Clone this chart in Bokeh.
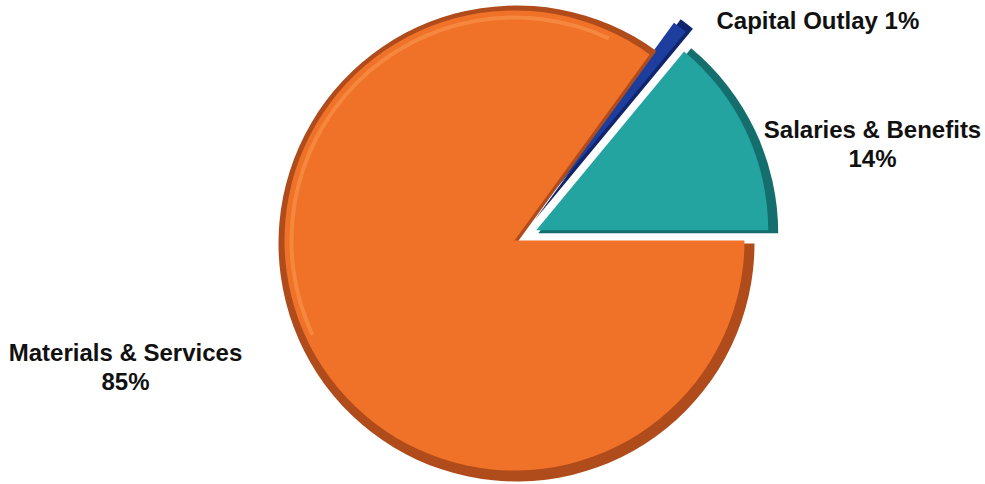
import math
from bokeh.plotting import figure
from bokeh.models import Range1d
from bokeh.embed import file_html
from bokeh.resources import INLINE
from bokeh.core.properties import value

# ---- data ----
categories = ["Salaries & Benefits", "Capital Outlay", "Materials & Services"]
percents = [14, 1, 85]
label_lines = [["Salaries & Benefits", "14%"], ["Capital Outlay 1%"], ["Materials & Services", "85%"]]

# ---- style ----
main_colors = ["#23A4A1", "#1D3E9E", "#F07128"]
dark_colors = ["#146E6E", "#10256B", "#B04C1B"]
light_colors = ["#4FC3C3", "#4A6CC8", "#F99A50"]
explode = [24, 30, 0]
radii = [240, 248, 238]
bevel = 8
hl_range = (math.radians(65), math.radians(205))

W, H = 985, 484
def px(x):
    return x
def py(y):
    return H - y

CX, CY = px(516), py(243)

# label layout (page pixels): anchor x, first line y, alignment
label_layout = [(872, 129, "center"), (716, 20, "left"), (125, 352, "center")]
line_gap = 29

p = figure(width=W, height=H, output_backend="svg", toolbar_location=None,
           x_range=Range1d(0, W), y_range=Range1d(0, H), min_border=0)
p.axis.visible = False
p.grid.visible = False
p.outline_line_color = None
p.background_fill_color = "white"

total = float(sum(percents))
start = 0.0
for i, v in enumerate(percents):
    ang = v / total * 2 * math.pi
    s, e = start, start + ang
    mid = (s + e) / 2
    cx = CX + explode[i] * math.cos(mid)
    cy = CY + explode[i] * math.sin(mid)
    r = radii[i]
    # dark outer (shadow) wedge
    p.wedge(x=[cx], y=[cy], radius=r, start_angle=s, end_angle=e,
            fill_color=dark_colors[i], line_color=None)
    # main face, nudged toward the light (upper left)
    p.wedge(x=[cx - 2], y=[cy + 3], radius=r - bevel, start_angle=s, end_angle=e,
            fill_color=main_colors[i], line_color=None)
    # soft highlight band on the lit rim
    hs, he = max(s, hl_range[0]), min(e, hl_range[1])
    if he > hs:
        p.annular_wedge(x=[cx - 2], y=[cy + 3], inner_radius=r - bevel - 9,
                        outer_radius=r - bevel - 5, start_angle=hs, end_angle=he,
                        fill_color=light_colors[i], fill_alpha=0.55, line_color=None)
    start = e

for i, lines in enumerate(label_lines):
    lx, ly, align = label_layout[i]
    for k, t in enumerate(lines):
        p.text(x=[px(lx)], y=[py(ly + k * line_gap)], text=[t],
               text_font=value("Liberation Sans"), text_font_style="bold",
               text_font_size="24px", text_color="#111111",
               text_align=align, text_baseline="middle")

open("out.html", "w").write(file_html(p, INLINE))
